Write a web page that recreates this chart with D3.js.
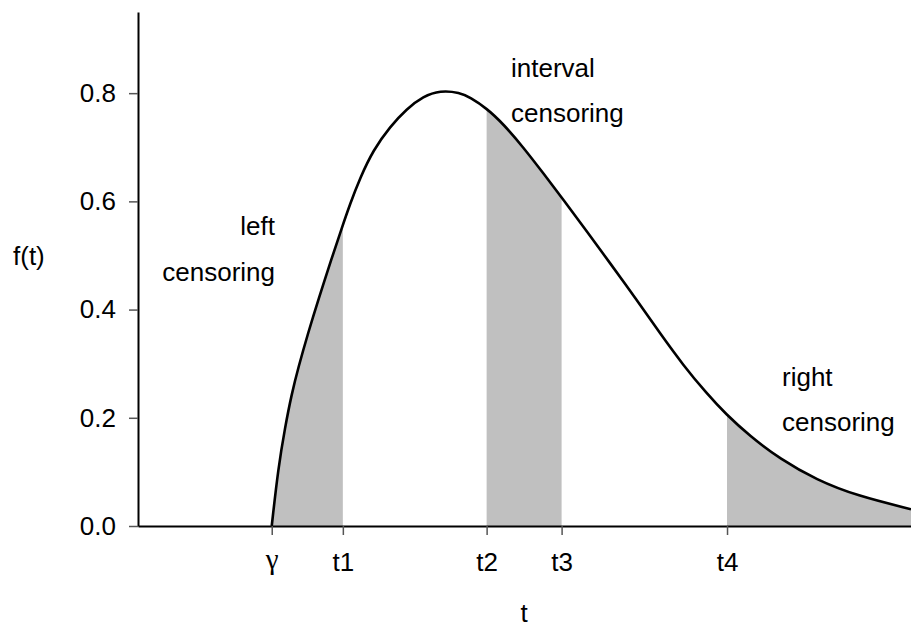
<!DOCTYPE html>
<html>
<head>
<meta charset="utf-8">
<script src="https://cdn.jsdelivr.net/npm/d3@7"></script>
<style>
  body { margin: 0; background: #fff; }
  svg { display: block; }
  text { font-family: "Liberation Sans", Arial, sans-serif; fill: #000; }
  .axis text { font-size: 26px; }
  .axis .tick line { stroke: #555; stroke-width: 1.5; }
  .axis .domain { stroke: #000; stroke-width: 2; }
  .shade { fill: #c0c0c0; }
  .curve { fill: none; stroke: #000; stroke-width: 2.6; }
  .note { font-size: 26px; }
</style>
</head>
<body>
<svg width="911" height="627"></svg>
<script>
// density curve (t, f(t))
var curveT = [1.73, 1.815, 1.902, 1.988, 2.074, 2.203, 2.332, 2.506, 2.635, 2.743, 2.872, 3.044, 3.26, 3.476, 3.691, 3.907, 4.166, 4.295, 4.511, 4.726, 4.984, 5.243, 5.502, 5.805, 6.106, 6.451, 6.753, 7.054, 7.357, 7.603, 7.917, 8.305, 8.78, 9.298, 10.0];
var curveF = [0, 0.108, 0.182, 0.244, 0.293, 0.358, 0.418, 0.495, 0.550, 0.595, 0.643, 0.695, 0.738, 0.771, 0.794, 0.805, 0.801, 0.792, 0.772, 0.743, 0.700, 0.652, 0.603, 0.545, 0.486, 0.418, 0.356, 0.297, 0.245, 0.207, 0.166, 0.124, 0.085, 0.056, 0.031];

// x ticks
var tickT = [1.73, 2.65, 4.51, 5.48, 7.62];
var tickLabels = ["γ", "t1", "t2", "t3", "t4"];

// shaded ranges (censoring)
var shadeFrom = [1.73, 4.51, 7.62];
var shadeTo = [2.65, 5.48, 10.0];

var yTicks = [0, 0.2, 0.4, 0.6, 0.8];

var svg = d3.select("svg"),
    margin = {left: 138, right: 0, top: 12, bottom: 101},
    width = +svg.attr("width") - margin.left - margin.right,
    height = +svg.attr("height") - margin.top - margin.bottom,
    g = svg.append("g").attr("transform", "translate(" + margin.left + "," + margin.top + ")");

var x = d3.scaleLinear().domain([0, 10]).range([0, width]);
var y = d3.scaleLinear().domain([0, 0.95]).range([height, 0]);

var pts = curveT.map(function(t, i) { return {t: t, f: curveF[i]}; });

// shaded areas, clipped to each interval
var area = d3.area()
    .x(function(d) { return x(d.t); })
    .y0(y(0))
    .y1(function(d) { return y(d.f); })
    .curve(d3.curveBasis);

shadeFrom.forEach(function(a, i) {
    var id = "clip" + i;
    g.append("clipPath").attr("id", id)
      .append("rect")
        .attr("x", x(a))
        .attr("y", 0)
        .attr("width", x(shadeTo[i]) - x(a))
        .attr("height", height);
    g.append("path")
        .attr("class", "shade")
        .attr("clip-path", "url(#" + id + ")")
        .attr("d", area(pts));
});

var line = d3.line()
    .x(function(d) { return x(d.t); })
    .y(function(d) { return y(d.f); })
    .curve(d3.curveBasis);

g.append("path")
    .attr("class", "curve")
    .attr("d", line(pts));

//Add the y axis
var yAxis = d3.axisLeft(y)
    .tickValues(yTicks)
    .tickFormat(d3.format(".1f"))
    .tickSize(9)
    .tickSizeOuter(0)
    .tickPadding(13);
g.append("g")
    .attr("class", "axis")
    .call(yAxis);

//Add the x axis
var xAxis = d3.axisBottom(x)
    .tickValues(tickT)
    .tickFormat(function(d, i) { return tickLabels[i]; })
    .tickSize(9)
    .tickSizeOuter(0)
    .tickPadding(18);
var gx = g.append("g")
    .attr("class", "axis")
    .attr("transform", "translate(0," + height + ")")
    .call(xAxis);
gx.selectAll(".tick text")
    .filter(function(d, i) { return i === 0; })
    .style("font-family", "'Liberation Serif', 'DejaVu Serif', serif")
    .style("font-size", "29px")
    .attr("dy", "0.55em");

// axis titles
svg.append("text")
    .attr("class", "note")
    .attr("x", 13)
    .attr("y", 265)
    .text("f(t)");
svg.append("text")
    .attr("class", "note")
    .attr("x", 524)
    .attr("y", 622)
    .attr("text-anchor", "middle")
    .text("t");

// annotations
var notes = [
    {x: 275, y: 235, anchor: "end", text: "left"},
    {x: 275, y: 281, anchor: "end", text: "censoring"},
    {x: 511, y: 77, anchor: "start", text: "interval"},
    {x: 511, y: 122, anchor: "start", text: "censoring"},
    {x: 782, y: 386, anchor: "start", text: "right"},
    {x: 782, y: 431, anchor: "start", text: "censoring"}
];
svg.selectAll(".ann")
    .data(notes)
    .enter().append("text")
    .attr("class", "note ann")
    .attr("x", function(d) { return d.x; })
    .attr("y", function(d) { return d.y; })
    .attr("text-anchor", function(d) { return d.anchor; })
    .text(function(d) { return d.text; });
</script>
</body>
</html>
